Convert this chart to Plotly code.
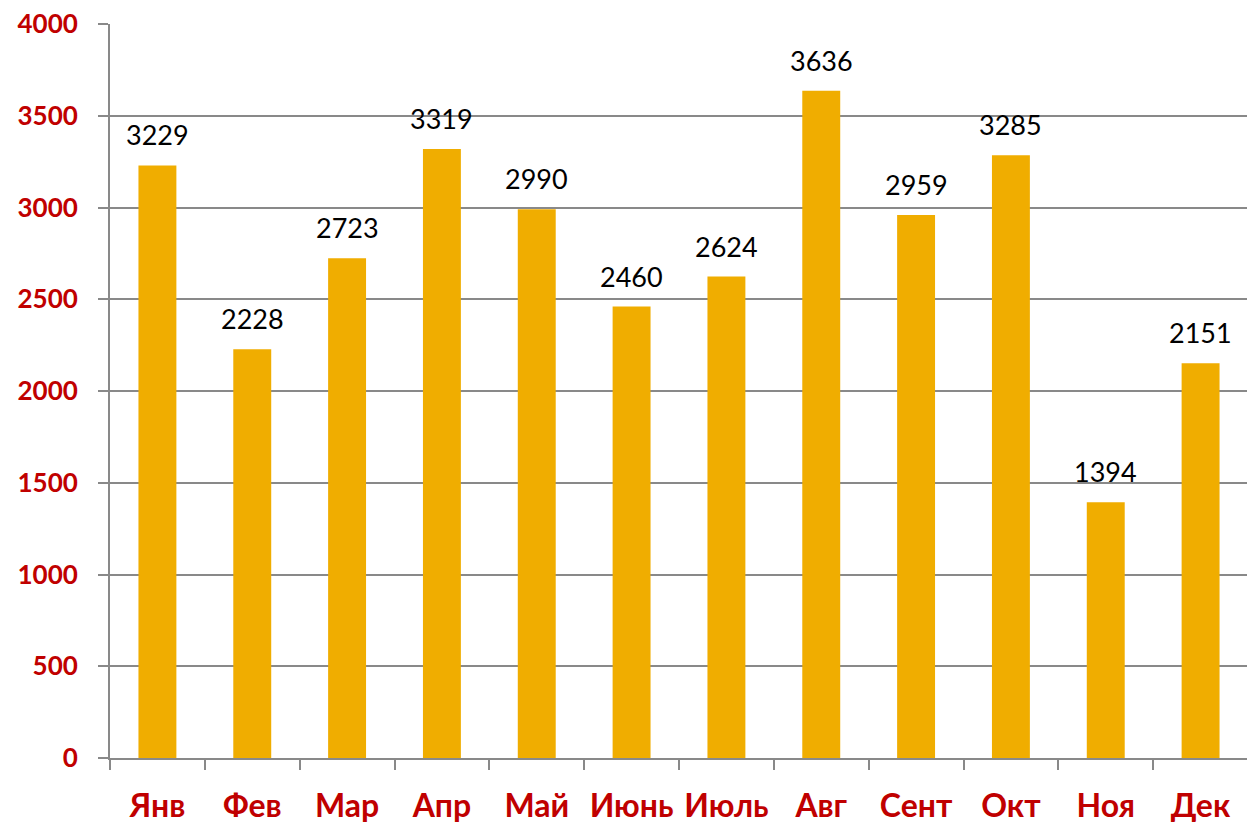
import plotly.graph_objects as go

months = ["Янв", "Фев", "Мар", "Апр", "Май", "Июнь", "Июль", "Авг", "Сент", "Окт", "Ноя", "Дек"]
values = [3229, 2228, 2723, 3319, 2990, 2460, 2624, 3636, 2959, 3285, 1394, 2151]
y_ticks = [0, 500, 1000, 1500, 2000, 2500, 3000, 3500, 4000]

fig = go.Figure(go.Bar(
    x=months, y=values,
    marker=dict(color="#F0AD00", line=dict(width=0)),
    cliponaxis=False,
))

for m, v in zip(months, values):
    fig.add_annotation(
        x=m, y=v, text=str(v), showarrow=False,
        xanchor="center", yanchor="bottom", yshift=12,
        font=dict(family="Lato", size=27, color="#000000"),
    )

fig.update_layout(
    width=1247, height=816,
    margin=dict(l=102, r=7, t=16, b=66),
    paper_bgcolor="white", plot_bgcolor="white",
    bargap=0.6,
    showlegend=False,
    xaxis=dict(
        type="category",
        automargin=False,
        tickson="boundaries",
        tickangle=0,
        ticks="outside", ticklen=10, tickwidth=2, tickcolor="#898989",
        showline=True, linecolor="#898989", linewidth=2,
        showgrid=False,
        ticklabelstandoff=19,
        ticklabeloverflow="allow",
        tickfont=dict(family="Lato", size=32, color="#C00000", weight="bold"),
    ),
    yaxis=dict(
        range=[0, 4000],
        automargin=False,
        tickvals=y_ticks,
        ticks="outside", ticklen=10, tickwidth=2, tickcolor="#898989",
        showline=True, linecolor="#898989", linewidth=2,
        showgrid=True, gridcolor="#898989", gridwidth=2,
        zeroline=False,
        ticklabeloverflow="allow",
        tickfont=dict(family="Lato", size=26, color="#C00000", weight="bold"),
        ticklabelstandoff=15,
    ),
)

fig.write_html("out.html")
